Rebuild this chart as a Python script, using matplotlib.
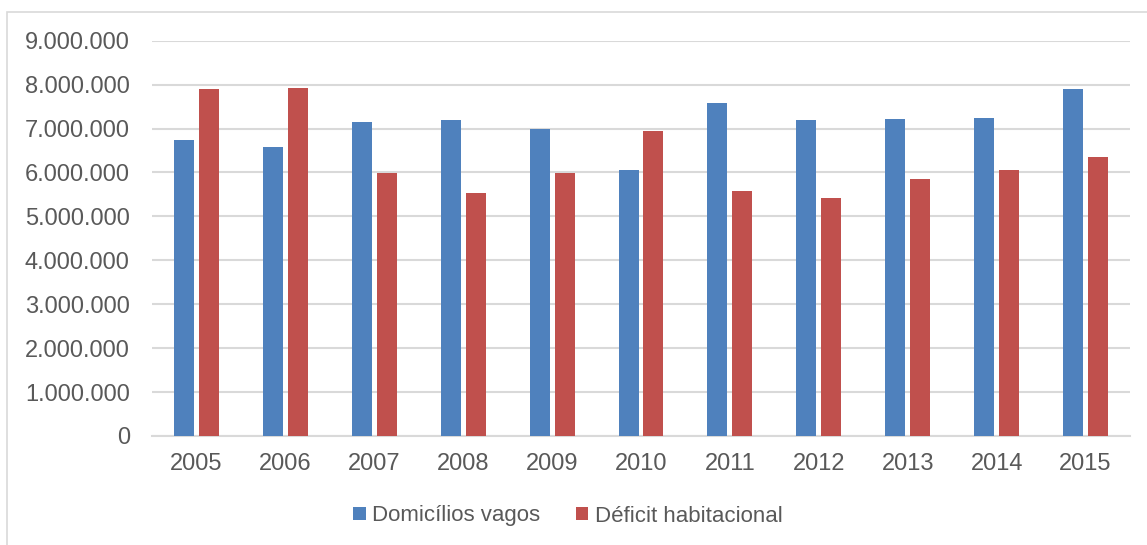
import matplotlib.pyplot as plt
from matplotlib.patches import Rectangle
from matplotlib.ticker import FuncFormatter
import numpy as np

# --- Dados ---
anos = ["2005", "2006", "2007", "2008", "2009", "2010",
        "2011", "2012", "2013", "2014", "2015"]
domicilios_vagos = [6740000, 6580000, 7150000, 7190000, 7000000, 6050000,
                    7590000, 7190000, 7220000, 7240000, 7900000]
deficit_habitacional = [7900000, 7930000, 5980000, 5530000, 5980000, 6940000,
                        5570000, 5430000, 5850000, 6060000, 6350000]

AZUL = "#4F81BD"
VERMELHO = "#C0504D"
CINZA_TXT = "#595959"
CINZA_GRADE = "#D9D9D9"

plt.rcParams['font.family'] = ['Liberation Sans', 'DejaVu Sans']

fig = plt.figure(figsize=(11.47, 5.45), dpi=100)
ax = fig.add_axes([152 / 1147, 1 - 436 / 545, (1130 - 152) / 1147, (436 - 40.7) / 545])

# borda do gráfico (estilo Excel)
fig.patches.append(Rectangle((7 / 1147, -0.05), 1.2, 1 - 12 / 545 + 0.05,
                             transform=fig.transFigure, fill=False,
                             edgecolor=CINZA_GRADE, linewidth=1.2))

x = np.arange(len(anos))
largura = 0.225
desloc = 0.14
ax.bar(x - desloc, domicilios_vagos, largura, color=AZUL, label="Domicílios vagos", zorder=3)
ax.bar(x + desloc, deficit_habitacional, largura, color=VERMELHO, label="Déficit habitacional", zorder=3)

ax.set_xlim(-0.5, len(anos) - 0.5)
ax.set_ylim(0, 9000000)
ax.set_yticks(np.arange(0, 9000001, 1000000))
ax.yaxis.set_major_formatter(FuncFormatter(lambda v, p: f"{int(v):,}".replace(",", ".")))
ax.set_xticks(x)
ax.set_xticklabels(anos)

ax.grid(axis='y', color=CINZA_GRADE, linewidth=1.5, zorder=0)
for s in ["top", "right", "left"]:
    ax.spines[s].set_visible(False)
ax.spines["bottom"].set_color(CINZA_GRADE)
ax.spines["bottom"].set_linewidth(1.5)
ax.tick_params(axis='both', length=0, labelsize=17, colors=CINZA_TXT)
ax.tick_params(axis='y', pad=16)
ax.tick_params(axis='x', pad=12)

fig.legend(loc='center', bbox_to_anchor=(568 / 1147, 1 - 516 / 545), ncol=2,
           frameon=False, fontsize=16, labelcolor=CINZA_TXT,
           handlelength=0.55, handleheight=0.55, handletextpad=0.3,
           columnspacing=1.6)

fig.savefig("out.png", dpi=100)
